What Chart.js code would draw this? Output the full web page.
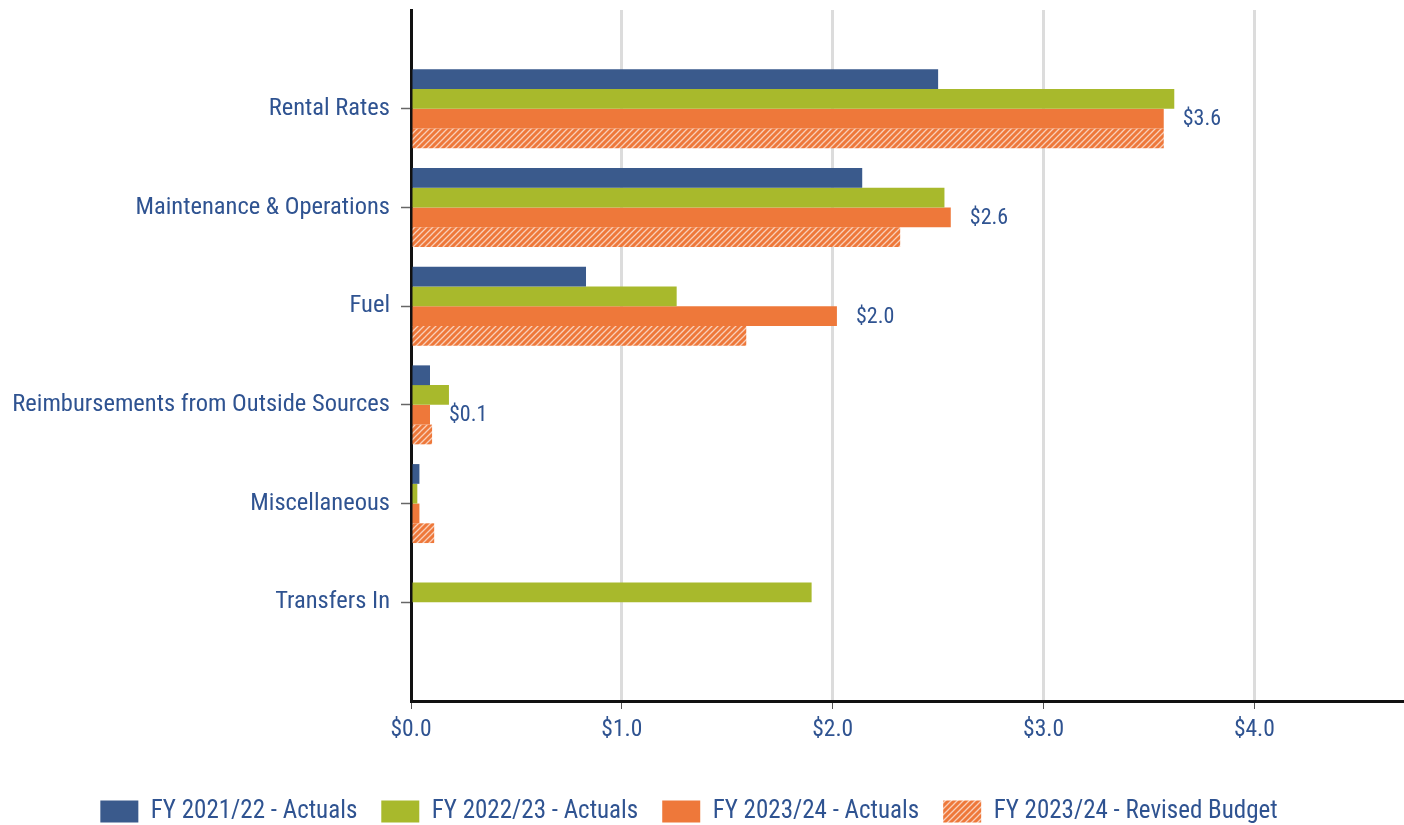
<!DOCTYPE html>
<html>
<head>
<meta charset="utf-8">
<script src="https://cdn.jsdelivr.net/npm/chart.js@4.4.1/dist/chart.umd.min.js"></script>
<style>
  html, body { margin: 0; padding: 0; background: #fff; }
  #wrap { width: 1404px; height: 825px; }
</style>
</head>
<body>
<div id="wrap"><canvas id="revenueChart" width="1404" height="825"></canvas></div>
<script>
// categories and values (in $ millions)
const categories = ['Rental Rates', 'Maintenance & Operations', 'Fuel', 'Reimbursements from Outside Sources', 'Miscellaneous', 'Transfers In'];
const seriesNames = ['FY 2021/22 - Actuals', 'FY 2022/23 - Actuals', 'FY 2023/24 - Actuals', 'FY 2023/24 - Revised Budget'];
const fy2122 = [2.50, 2.14, 0.83, 0.09, 0.04, 0];
const fy2223 = [3.62, 2.53, 1.26, 0.18, 0.03, 1.90];
const fy2324 = [3.57, 2.56, 2.02, 0.09, 0.04, 0];
const fy2324Budget = [3.57, 2.32, 1.59, 0.10, 0.11, 0];
const xTicks = [0, 1, 2, 3, 4];

const textColor = '#2f5391';
const fontFamily = "'Roboto Condensed', 'Liberation Sans Narrow', Roboto, sans-serif";

function hatch(base) {
  const c = document.createElement('canvas');
  c.width = 6; c.height = 6;
  const g = c.getContext('2d');
  g.fillStyle = base;
  g.fillRect(0, 0, 6, 6);
  g.strokeStyle = 'rgba(255,255,255,0.65)';
  g.lineWidth = 1.3;
  g.beginPath();
  g.moveTo(-1, 7); g.lineTo(7, -1);
  g.moveTo(-4, 4); g.lineTo(4, -4);
  g.moveTo(2, 10); g.lineTo(10, 2);
  g.stroke();
  return g.createPattern(c, 'repeat');
}

// pad one empty slot above and below the categories
const pad = arr => [null, ...arr, null];

const valueLabels = {
  id: 'valueLabels',
  afterDatasetsDraw(chart) {
    const ctx = chart.ctx;
    const meta = chart.getDatasetMeta(2);
    ctx.save();
    ctx.font = '22px ' + fontFamily;
    ctx.fillStyle = textColor;
    ctx.textBaseline = 'middle';
    meta.data.forEach((bar, i) => {
      const v = chart.data.datasets[2].data[i];
      if (v == null || v.toFixed(1) === '0.0') return;
      ctx.fillText('$' + v.toFixed(1), bar.x + 19, bar.y + 1);
    });
    ctx.restore();
  }
};

// the legend sits a little left of centre in the original
const legendShift = {
  id: 'legendShift',
  afterLayout(chart) {
    if (chart.legend) {
      chart.legend.left -= 12;
      chart.legend.right -= 12;
    }
  }
};

const ctx = document.getElementById('revenueChart');

new Chart(ctx, {
  type: 'bar',
  data: {
    labels: pad(categories),
    datasets: [
      { label: seriesNames[0], data: pad(fy2122), backgroundColor: '#3a5a8c' },
      { label: seriesNames[1], data: pad(fy2223), backgroundColor: '#a8b92c' },
      { label: seriesNames[2], data: pad(fy2324), backgroundColor: '#ee783a' },
      { label: seriesNames[3], data: pad(fy2324Budget), backgroundColor: hatch('#ee783a') }
    ]
  },
  options: {
    indexAxis: 'y',
    responsive: false,
    animation: false,
    categoryPercentage: 0.8,
    barPercentage: 1.0,
    layout: { padding: { top: 10, right: 2, left: 0, bottom: -9 } },
    scales: {
      x: {
        min: 0,
        max: 4.7,
        afterBuildTicks: scale => { scale.ticks = xTicks.map(v => ({ value: v })); },
        ticks: {
          color: textColor,
          font: { family: fontFamily, size: 23.5 },
          padding: 7,
          callback: v => '$' + Number(v).toFixed(1)
        },
        grid: {
          color: c => c.tick && c.tick.value === 0 ? 'rgba(0,0,0,0)' : '#dcdcdc',
          lineWidth: 3,
          tickColor: '#555',
          tickWidth: 1,
          tickLength: 8
        },
        border: { color: '#111', width: 3 },
        afterFit: scale => { scale.height = 74; scale.paddingLeft = 0; scale.paddingRight = 0; }
      },
      y: {
        offset: false,
        ticks: {
          color: textColor,
          font: { family: fontFamily, size: 24.5 },
          padding: 11,
          autoSkip: false
        },
        grid: {
          offset: false,
          drawOnChartArea: false,
          tickColor: '#666',
          tickWidth: 1.5,
          tickLength: 10
        },
        border: { color: '#111', width: 3 },
        afterFit: scale => { scale.width = 411; scale.paddingTop = 0; scale.paddingBottom = 0; }
      }
    },
    plugins: {
      legend: {
        position: 'bottom',
        labels: {
          color: textColor,
          font: { family: fontFamily, size: 25 },
          boxWidth: 38,
          boxHeight: 22,
          padding: 24
        }
      },
      tooltip: { enabled: false }
    }
  },
  plugins: [valueLabels, legendShift]
});
</script>
</body>
</html>
